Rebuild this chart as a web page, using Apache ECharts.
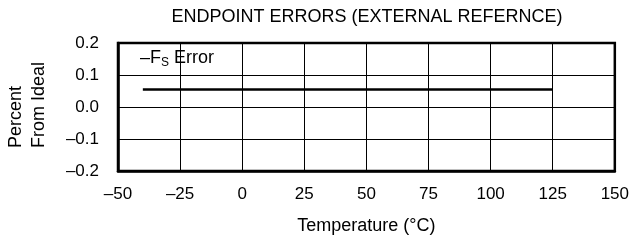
<!DOCTYPE html>
<html>
<head>
<meta charset="utf-8">
<script src="https://cdn.jsdelivr.net/npm/echarts@6/dist/echarts.min.js"></script>
<style>
  html, body { margin: 0; padding: 0; background: #fff; }
  #chart { width: 632px; height: 240px; }
</style>
</head>
<body>
<div id="chart"></div>
<script>
 var temps = [-40, 125];
 var fsError = [0.055, 0.055];
 var font = 'Liberation Sans, Arial, sans-serif';

 function fmtY(v) {
   var s = Math.abs(v).toFixed(1);
   return v < -1e-9 ? '\u2013' + s : s;
 }
 function fmtX(v) {
   return v < 0 ? '\u2013' + Math.abs(v) : String(v);
 }

 function makeOption() {
   var pts = temps.map(function (t, i) { return [t, fsError[i]]; });
   var option = {
     animation: false,
     textStyle: { fontFamily: font, color: '#000' },
     title: {
       text: 'ENDPOINT ERRORS (EXTERNAL REFERNCE)',
       left: 367,
       top: 8,
       padding: 0,
       textAlign: 'center',
       textStyle: { fontFamily: font, fontSize: 18, fontWeight: 'normal', color: '#000' }
     },
     grid: {
       left: 118, right: 17, top: 43, bottom: 69,
       show: true, borderColor: '#000', borderWidth: 2.5,
       containLabel: false
     },
     graphic: [{
       // legend label inside the plot
       type: 'text',
       left: 140,
       top: 49,
       z: 10,
       style: {
         text: '{a|\u2013F}{s|S}{a| Error}',
         fill: '#000',
         rich: {
           a: { fontFamily: font, fontSize: 18, fill: '#000' },
           s: { fontFamily: font, fontSize: 12, fill: '#000', padding: [9, 0, 0, 0] }
         }
       }
     }, {
       // y axis title, both lines start at the same point
       type: 'text',
       x: 28,
       y: 148,
       rotation: Math.PI / 2,
       style: {
         text: 'Percent\nFrom Ideal',
         fill: '#000',
         fontFamily: font,
         fontSize: 18,
         lineHeight: 23,
         align: 'left',
         verticalAlign: 'middle'
       }
     }],
     xAxis: {
       type: 'value',
       min: -50, max: 150, interval: 25,
       name: 'Temperature (\u00b0C)',
       nameLocation: 'middle',
       nameGap: 46,
       nameTextStyle: { fontFamily: font, fontSize: 18, color: '#000' },
       axisLine: { show: true, onZero: false, lineStyle: { color: '#000', width: 2.5 } },
       axisTick: { show: false },
       axisLabel: { fontFamily: font, fontSize: 17, color: '#000', margin: 15, formatter: fmtX },
       splitLine: { show: true, lineStyle: { color: '#000', width: 1 } }
     },
     yAxis: {
       type: 'value',
       min: -0.2, max: 0.2, interval: 0.1,
       axisLine: { show: true, onZero: false, lineStyle: { color: '#000', width: 2.5 } },
       axisTick: { show: false },
       axisLabel: { fontFamily: font, fontSize: 17, color: '#000', margin: 19, formatter: fmtY },
       splitLine: { show: true, lineStyle: { color: '#000', width: 1 } }
     },
     series: [{
       name: '-FS Error',
       type: 'line',
       data: pts,
       symbol: 'none',
       lineStyle: { color: '#000', width: 2.5 }
     }]
   };
   return option;
 }

 function setChart(id, option) {
   var myChart = echarts.init(document.getElementById(id));
   myChart.setOption(option);
 }
 setChart('chart', makeOption());
</script>
</body>
</html>
